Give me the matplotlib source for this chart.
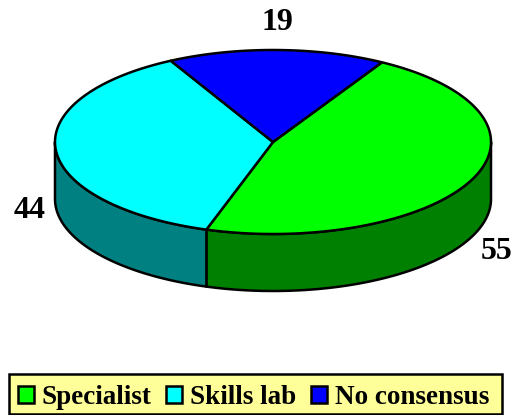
import numpy as np
import matplotlib
matplotlib.use("Agg")
import matplotlib.pyplot as plt
from matplotlib.patches import Polygon, Patch, Rectangle

categories = ["Specialist", "Skills lab", "No consensus"]
values = [55, 44, 19]
top_colors = ["#00FF00", "#00FFFF", "#0000FF"]
side_colors = ["#008000", "#008080", "#000080"]

START = 60.0
CX, CY, A, B, DEPTH = 273.0, 142.0, 218.0, 92.0, 57.0
LW = 1.8

fig = plt.figure(figsize=(5.12, 4.15), dpi=100, facecolor="white")
ax = fig.add_axes([0, 0, 1, 1])
ax.set_xlim(0, 512)
ax.set_ylim(415, 0)
ax.axis("off")

def pt(t, dy=0.0):
    t = np.radians(t)
    return np.column_stack([CX + A * np.cos(t), CY - B * np.sin(t) + dy])

fracs = np.array(values) / sum(values) * 360.0
ends = START - np.cumsum(fracs)
starts = ends + fracs

for s, e, c in zip(starts, ends, side_colors):
    for shift in (0, -360):
        hi, lo = min(s + shift, 0), max(e + shift, -180)
        if hi > lo:
            t = np.linspace(hi, lo, 120)
            poly = np.vstack([pt(t), pt(t[::-1], DEPTH)])
            ax.add_patch(Polygon(poly, closed=True, fc=c, ec="black", lw=LW, joinstyle="round", zorder=1))

for s, e, c in zip(starts, ends, top_colors):
    t = np.linspace(s, e, 240)
    poly = np.vstack([[CX, CY], pt(t)])
    ax.add_patch(Polygon(poly, closed=True, fc=c, ec="black", lw=LW, joinstyle="round", zorder=2))

lab = dict(fontfamily="Liberation Serif", fontweight="bold", fontsize=23, color="black", ha="center", va="center")
label_pos = [(497, 251), (30, 210), (277, 22)]
for v, (x, y) in zip(values, label_pos):
    ax.text(x, y, str(v), **lab)

ax.add_patch(Rectangle((9, 373.5), 493, 40.5, fc="#FFFF99", ec="black", lw=1.8, zorder=3))

handles = [Patch(fc=c, ec="black", lw=1.8) for c in top_colors]
leg = ax.legend(handles, categories, loc="lower left", bbox_to_anchor=(9.5 / 512, -3.5 / 415, 488 / 512, 40 / 415),
                mode="expand", ncol=3, frameon=False, borderaxespad=0,
                prop=dict(family="Liberation Serif", weight="bold", size=19.5),
                handlelength=0.6, handleheight=0.6, handletextpad=0.28, columnspacing=0.5,
                borderpad=0.3)
leg.set_zorder(4)

fig.savefig("out.png", dpi=100, facecolor="white")
